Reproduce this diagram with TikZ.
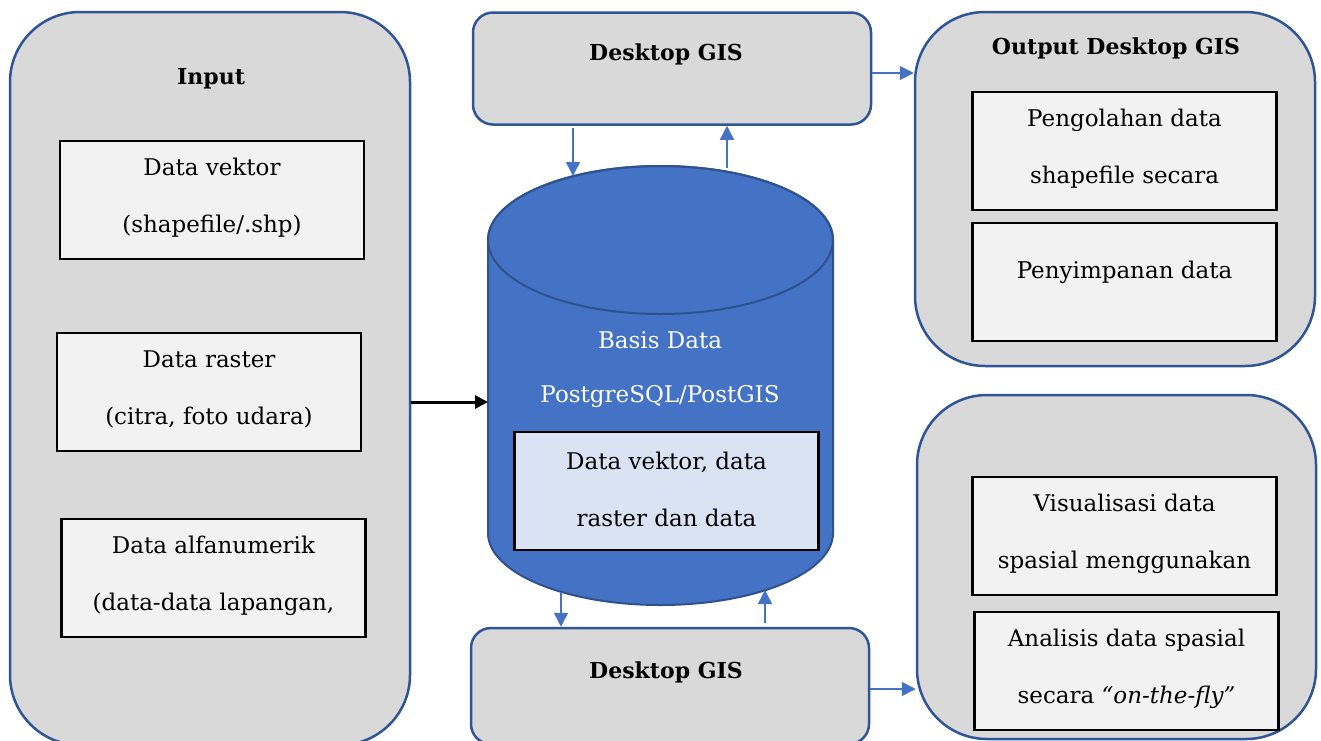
\documentclass[tikz,border=0pt]{standalone}
\usepackage{fontspec}
\setmainfont{DejaVu Serif}
\usetikzlibrary{arrows.meta,calc}
\definecolor{gfill}{HTML}{D9D9D9}
\definecolor{ifill}{HTML}{F2F2F2}
\definecolor{bline}{HTML}{2F5597}
\definecolor{ablue}{HTML}{4472C4}
\definecolor{cylfill}{HTML}{4472C4}
\definecolor{cylline}{HTML}{2F528F}
\definecolor{dbfill}{HTML}{DAE3F3}
\begin{document}
\begin{tikzpicture}[x=0.5pt,y=-0.5pt,
  group/.style={draw=bline, line width=1.25pt, fill=gfill, rounded corners=35pt, inner sep=0pt},
  deskbox/.style={draw=bline, line width=1.25pt, fill=gfill, rounded corners=10pt, minimum width=199pt, minimum height=56pt, inner sep=0pt},
  item/.style={draw=black, line width=1.25pt, fill=ifill, minimum width=152pt, minimum height=59pt, inner sep=0pt},
  txt/.style={align=center, font=\fontsize{11.5}{28.5}\selectfont, inner sep=0pt},
  ttl/.style={font=\fontsize{11}{13}\selectfont\bfseries, inner sep=0pt},
  barrow/.style={draw=ablue, line width=0.75pt, -{Triangle[length=7pt,width=7pt]}},
  karrow/.style={draw=black, line width=1.5pt, -{Triangle[length=6.5pt,width=6.5pt]}}]
\useasboundingbox (0,0) rectangle (1321,740);

% Input group
\node[group, minimum width=200pt, minimum height=366.5pt] (inp) at (210,378.5) {};
\node[ttl] (inpt) at (211,79) {Input};
\node[item] (dv) at (212,200) {};
\node[txt] (dvt) at (212,197.5) {Data vektor\\(shapefile/.shp)};
\node[item] (dr) at (209,392) {};
\node[txt] (drt) at (209,389) {Data raster\\(citra, foto udara)};
\node[item] (da) at (213.5,578) {};
\node[txt] (dat) at (213.5,575.5) {Data alfanumerik\\(data-data lapangan,};

% Desktop GIS top / bottom
\node[deskbox] (dt) at (672,68.5) {};
\node[ttl] (dtt) at (666,54) {Desktop GIS};
\node[deskbox, minimum height=58pt] (dd) at (670,686) {};
\node[ttl] (ddt) at (666,672) {Desktop GIS};

% Cylinder
\path[fill=cylfill, draw=cylline, line width=1pt] (488,240) -- (488,533)
  arc[start angle=180, end angle=0, x radius=172.5, y radius=72] -- (833,240)
  arc[start angle=0, end angle=-180, x radius=172.5, y radius=74] -- cycle;
\draw[cylline, line width=1pt] (660.5,240) ellipse [x radius=172.5, y radius=74];
\node[txt, text=white] (dbt1) at (660,340) {Basis Data};
\node[txt, text=white] (dbt2) at (660,397) {PostgreSQL/PostGIS};
\node[item, fill=dbfill] (dbin) at (666.5,491) {};
\node[txt] (dbint) at (666.5,489) {Data vektor, data\\raster dan data};
\coordinate (cylL) at (488,402);
\coordinate (cylT1) at (573,176);
\coordinate (cylT2) at (727,168);
\coordinate (cylB1) at (561,592);
\coordinate (cylB2) at (765,590);

% Output groups
\node[group, minimum width=200pt, minimum height=177pt] (out1) at (1115,189) {};
\node[ttl] (out1t) at (1116,48) {Output Desktop GIS};
\node[item] (pg) at (1124.5,151) {};
\node[txt] (pgt) at (1124.5,148.5) {Pengolahan data\\shapefile secara};
\node[item] (ps) at (1124.5,282) {};
\node[txt] (pst) at (1124.5,272) {Penyimpanan data};

\node[group, minimum width=199.5pt, minimum height=172pt] (out2) at (1116.5,567) {};
\node[item] (vs) at (1124.5,536) {};
\node[txt] (vst) at (1124.5,534) {Visualisasi data\\spasial menggunakan};
\node[item] (an) at (1126.5,671) {};
\node[txt] (ant) at (1126.5,668.5) {Analisis data spasial\\secara \textit{“on-the-fly”}};

% Connectors
\draw[karrow] (inp.east |- cylL) -- (cylL);
\draw[barrow] ([yshift=-1pt]dt.south -| cylT1) -- (cylT1);
\draw[barrow] (cylT2) -- (dt.south -| cylT2);
\draw[barrow] (cylB1) -- (dd.north -| cylB1);
\draw[barrow] ([yshift=2pt]dd.north -| cylB2) -- (cylB2);
\draw[barrow] ([yshift=-2.25pt]dt.east) -- ([yshift=-2.25pt]dt.east -| out1.west);
\draw[barrow] ([yshift=-1.5pt]dd.east) -- ([yshift=-1.5pt]dd.east -| out2.west);
\end{tikzpicture}
\end{document}
